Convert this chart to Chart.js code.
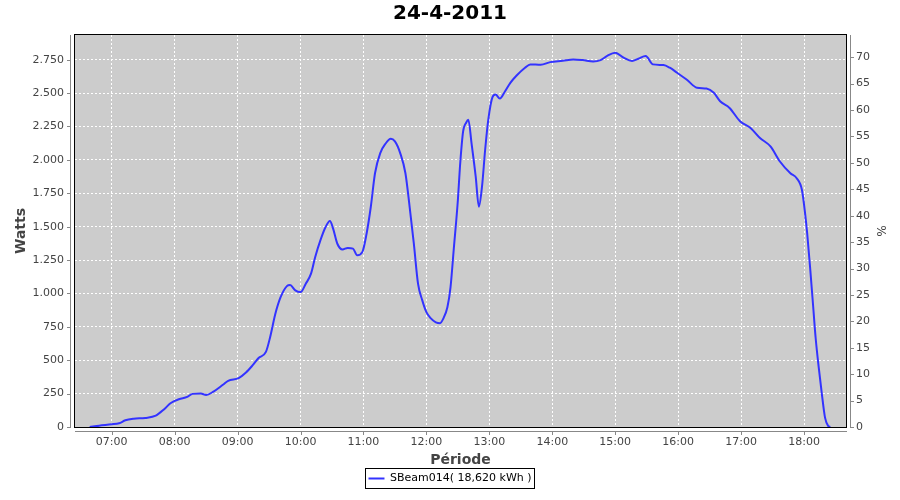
<!DOCTYPE html>
<html>
<head>
<meta charset="utf-8">
<title>24-4-2011</title>
<script src="https://cdn.jsdelivr.net/npm/chart.js@4.4.1/dist/chart.umd.min.js"></script>
<style>
  html, body { margin: 0; padding: 0; background: #fff; }
  canvas { display: block; }
</style>
</head>
<body>
<canvas id="powerChart" width="900" height="500"></canvas>
<script>
const chartTitle = "24-4-2011";
const seriesLabel = "SBeam014( 18,620 kWh )";

const times = [
  "06:39", "06:48", "07:00", "07:07", "07:13", "07:21", "07:32", "07:42", "07:50", "07:56",
  "08:04", "08:12", "08:17", "08:25", "08:30", "08:37", "08:46", "08:51", "09:01", "09:08",
  "09:14", "09:20", "09:27", "09:31", "09:36", "09:41", "09:47", "09:50", "09:55", "10:00",
  "10:05", "10:10", "10:14", "10:19", "10:24", "10:28", "10:31", "10:35", "10:40", "10:45",
  "10:50", "10:54", "10:59", "11:03", "11:07", "11:11", "11:16", "11:21", "11:26", "11:30",
  "11:35", "11:40", "11:44", "11:48", "11:52", "11:56", "12:00", "12:04", "12:09", "12:13",
  "12:16", "12:20", "12:23", "12:26", "12:30", "12:32", "12:35", "12:38", "12:40", "12:43",
  "12:47", "12:50", "12:53", "12:56", "12:59", "13:03", "13:06", "13:10", "13:15", "13:20",
  "13:26", "13:34", "13:39", "13:49", "13:58", "14:10", "14:20", "14:29", "14:39", "14:46",
  "14:52", "15:00", "15:08", "15:16", "15:22", "15:29", "15:36", "15:46", "15:52", "15:59",
  "16:08", "16:18", "16:27", "16:34", "16:40", "16:49", "16:59", "17:09", "17:18", "17:28",
  "17:37", "17:47", "17:53", "17:58", "18:01", "18:03", "18:06", "18:09", "18:11", "18:14",
  "18:17", "18:20", "18:23", "18:25"
];

const watts = [
  0, 10, 20, 28, 50, 62, 68, 85, 133, 178,
  208, 225, 248, 250, 240, 265, 316, 346, 366, 408,
  459, 517, 562, 672, 848, 972, 1055, 1063, 1023, 1010,
  1073, 1148, 1273, 1399, 1499, 1542, 1487, 1374, 1329, 1341,
  1336, 1286, 1311, 1449, 1649, 1900, 2051, 2121, 2158, 2138,
  2051, 1900, 1649, 1374, 1073, 950, 860, 815, 784, 777,
  810, 897, 1048, 1324, 1700, 1950, 2213, 2280, 2300, 2126,
  1875, 1649, 1800, 2076, 2301, 2470, 2489, 2459, 2514, 2577,
  2632, 2690, 2715, 2712, 2732, 2742, 2752, 2747, 2737, 2747,
  2777, 2802, 2765, 2740, 2757, 2777, 2715, 2710, 2690, 2652,
  2602, 2540, 2534, 2502, 2439, 2389, 2289, 2239, 2164, 2101,
  1988, 1900, 1863, 1775, 1600, 1450, 1173, 872, 672, 446,
  246, 70, 8, 0
];

// axis ranges
const timeMin = "06:25";
const timeMax = "18:40";
const wattsMax = 2935;
const percentMax = 74.2;

function toMinutes(hhmm) {
  const [h, m] = hhmm.split(":").map(Number);
  return h * 60 + m;
}

function formatTime(minutes) {
  const h = Math.floor(minutes / 60);
  const m = Math.round(minutes % 60);
  return String(h).padStart(2, "0") + ":" + String(m).padStart(2, "0");
}

// 2750 -> "2.750"
function formatWatts(v) {
  return String(v).replace(/\B(?=(\d{3})+(?!\d))/g, ".");
}

const points = times.map((t, i) => ({ x: toMinutes(t), y: watts[i] }));

const tickFont = { family: "DejaVu Sans", size: 11 };
const tickColor = "#444444";

// grey plot background, black outline, offset axis lines and the boxed legend
const plotFrame = {
  id: "plotFrame",
  beforeDraw(chart) {
    const { ctx, chartArea: a } = chart;
    ctx.save();
    ctx.fillStyle = "#cccccc";
    ctx.fillRect(a.left, a.top, a.right - a.left, a.bottom - a.top);
    ctx.restore();
  },
  afterDraw(chart) {
    const { ctx, chartArea: a, scales } = chart;
    ctx.save();
    ctx.lineWidth = 1;
    ctx.strokeStyle = "#000000";
    ctx.strokeRect(a.left - 0.5, a.top - 0.5, a.right - a.left + 1, a.bottom - a.top + 1);

    ctx.strokeStyle = "#888888";
    ctx.beginPath();
    // left axis
    ctx.moveTo(a.left - 4.5, a.top);
    ctx.lineTo(a.left - 4.5, a.bottom + 1);
    scales.y.ticks.forEach((t) => {
      const y = Math.round(scales.y.getPixelForValue(t.value)) + 0.5;
      ctx.moveTo(a.left - 4, y);
      ctx.lineTo(a.left - 8, y);
    });
    // right axis
    ctx.moveTo(a.right + 4.5, a.top);
    ctx.lineTo(a.right + 4.5, a.bottom + 1);
    scales.y2.ticks.forEach((t) => {
      const y = Math.round(scales.y2.getPixelForValue(t.value)) + 0.5;
      ctx.moveTo(a.right + 4, y);
      ctx.lineTo(a.right + 8, y);
    });
    // bottom axis
    ctx.moveTo(a.left, a.bottom + 4.5);
    ctx.lineTo(a.right + 1, a.bottom + 4.5);
    scales.x.ticks.forEach((t) => {
      const x = Math.round(scales.x.getPixelForValue(t.value)) + 0.5;
      ctx.moveTo(x, a.bottom + 4);
      ctx.lineTo(x, a.bottom + 8);
    });
    ctx.stroke();

    const hb = chart.legend.legendHitBoxes[0];
    if (hb) {
      ctx.strokeStyle = "#000000";
      ctx.strokeRect(Math.round(hb.left) - 2.5, Math.round(hb.top) - 4.5,
        Math.round(hb.width) + 6, Math.round(hb.height) + 9);
    }
    ctx.restore();
  }
};

const config = {
  type: "line",
  data: {
    datasets: [
      {
        label: seriesLabel,
        data: points,
        borderColor: "#3333ff",
        backgroundColor: "#3333ff",
        borderWidth: 2,
        pointRadius: 0,
        fill: false,
        cubicInterpolationMode: "monotone",
        yAxisID: "y",
      },
    ],
  },
  options: {
    responsive: false,
    animation: false,
    layout: { padding: { left: 0, right: 0, top: 0, bottom: 6 } },
    plugins: {
      title: {
        display: true,
        text: chartTitle,
        color: "#000000",
        font: { family: "DejaVu Sans", size: 20, weight: "bold" },
        padding: { top: 2, bottom: 9 },
      },
      legend: {
        display: true,
        position: "bottom",
        labels: {
          usePointStyle: true,
          pointStyle: "line",
          pointStyleWidth: 16,
          color: "#000000",
          font: { family: "DejaVu Sans", size: 11 },
          padding: 4,
        },
      },
      tooltip: { enabled: false },
    },
    scales: {
      x: {
        type: "linear",
        min: toMinutes(timeMin),
        max: toMinutes(timeMax),
        afterFit(scale) { scale.height = 42; },
        ticks: {
          stepSize: 60,
          includeBounds: false,
          maxRotation: 0,
          autoSkip: false,
          padding: 9,
          color: tickColor,
          font: tickFont,
          callback: (v) => formatTime(v),
        },
        grid: { color: "#ffffff", lineWidth: 1, drawTicks: false },
        border: { display: false, dash: [2, 2] },
        title: {
          display: true,
          text: "Période",
          color: "#444444",
          font: { family: "DejaVu Sans", size: 14, weight: "bold" },
          padding: { top: 0, bottom: 0 },
        },
      },
      y: {
        position: "left",
        min: 0,
        max: wattsMax,
        afterFit(scale) { scale.width = 75; },
        ticks: {
          stepSize: 250,
          maxTicksLimit: 20,
          includeBounds: false,
          padding: 11,
          color: tickColor,
          font: tickFont,
          callback: (v) => formatWatts(v),
        },
        grid: { color: "#ffffff", lineWidth: 1, drawTicks: false },
        border: { display: false, dash: [2, 2] },
        title: {
          display: true,
          text: "Watts",
          color: "#444444",
          font: { family: "DejaVu Sans", size: 14, weight: "bold" },
          padding: { top: 13, bottom: 0 },
        },
      },
      y2: {
        position: "right",
        min: 0,
        max: percentMax,
        afterFit(scale) { scale.width = 54; },
        ticks: {
          stepSize: 5,
          maxTicksLimit: 20,
          includeBounds: false,
          padding: 10,
          color: tickColor,
          font: tickFont,
        },
        grid: { display: false, drawTicks: false },
        border: { display: false },
        title: {
          display: true,
          text: "%",
          color: "#444444",
          font: { family: "DejaVu Sans", size: 12 },
          padding: { top: 13, bottom: 0 },
        },
      },
    },
  },
  plugins: [plotFrame],
};

const powerChart = new Chart(document.getElementById("powerChart"), config);
</script>
</body>
</html>
